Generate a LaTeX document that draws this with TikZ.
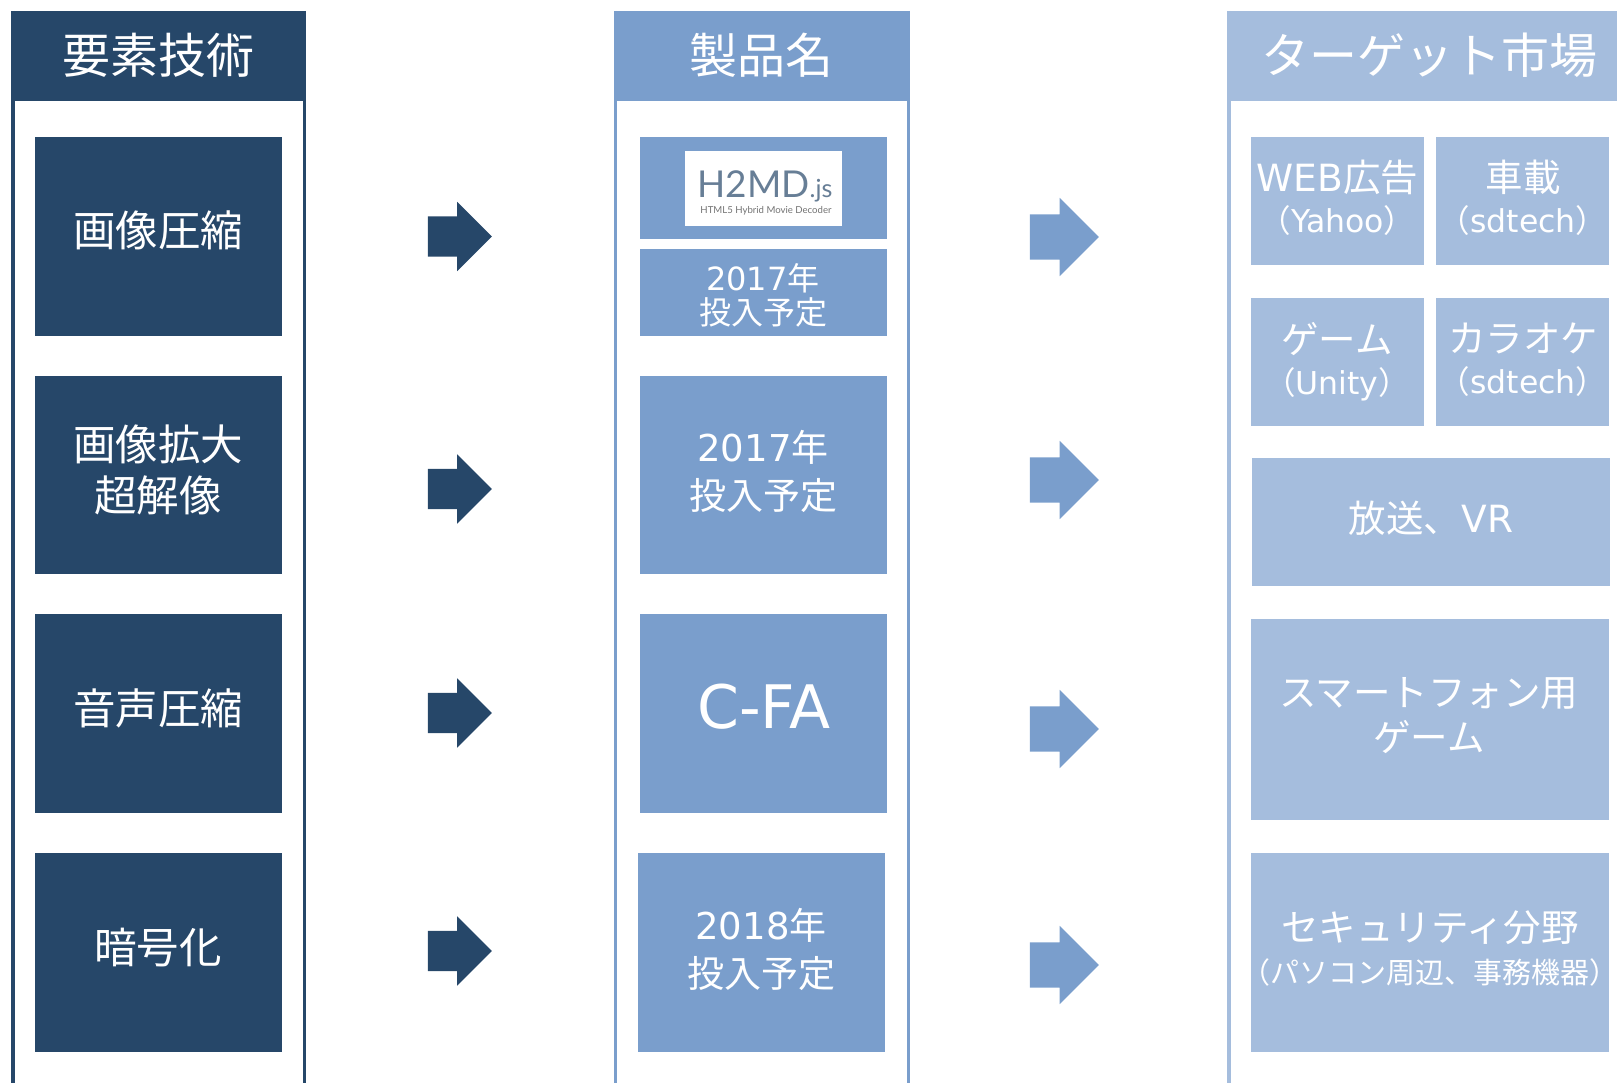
\documentclass[tikz,border=0pt]{standalone}
\usepackage{fontspec}
\usepackage{xcolor}
\usetikzlibrary{shapes.arrows}
\setmainfont{Noto Sans CJK JP}
\newfontfamily\lat{DejaVu Sans}
\newfontfamily\logofont{Lato}
\definecolor{darkblue}{HTML}{264769}
\definecolor{midblue}{HTML}{7A9ECC}
\definecolor{lightblue}{HTML}{A5BDDD}
\newcommand{\fs}[2]{\fontsize{#1}{#2}\selectfont}
\begin{document}
\begin{tikzpicture}
  [x=1pt,y=-1pt,
   box/.style={rectangle,inner sep=0pt,minimum width=#1},
   txt/.style={white,inner sep=0pt,align=center,text depth=0pt,yshift=2pt},
   darrow/.style={single arrow,fill=darkblue,inner xsep=0pt,inner ysep=20pt,minimum height=64pt,
     single arrow head extend=14.5pt,single arrow head indent=0pt},
   larrow/.style={single arrow,fill=midblue,inner xsep=0pt,inner ysep=22.5pt,minimum height=69pt,
     single arrow head extend=16.5pt,single arrow head indent=0pt}]
  \useasboundingbox (0,0) rectangle (1617,1083);
  \clip (0,0) rectangle (1617,1083);

  % column frames
  \coordinate (fa) at (13,11);
  \coordinate (fb) at (304.5,11);
  \coordinate (fc) at (615.5,11);
  \coordinate (fd) at (908.5,11);
  \coordinate (fe) at (1229,11);
  \coordinate (ga) at (13,1083);
  \coordinate (gb) at (304.5,1083);
  \coordinate (gc) at (615.5,1083);
  \coordinate (gd) at (908.5,1083);
  \coordinate (ge) at (1229,1083);
  \draw[darkblue,line width=3.3pt] (fa) -- (ga);
  \draw[darkblue,line width=3.3pt] (fb) -- (gb);
  \draw[midblue,line width=3.3pt] (fc) -- (gc);
  \draw[midblue,line width=3.3pt] (fd) -- (gd);
  \draw[lightblue,line width=3.3pt] (fe) -- (ge);

  % headers
  \node[box=295pt,minimum height=90pt,fill=darkblue] (heada) at (158.5,56) {};
  \node[box=296.5pt,minimum height=90pt,fill=midblue] (headb) at (761.75,56) {};
  \node[box=390pt,minimum height=90pt,fill=lightblue] (headc) at (1422,56) {};

  % boxes
  \foreach \name/\x/\y/\w/\h in {a1/158.25/236.5/247/199,a2/158.25/475/247/198,a3/158.25/713.5/247/199,a4/158.25/952.5/247/199}
    \node[box=\w pt,minimum height=\h pt,fill=darkblue] (\name) at (\x,\y) {};
  \foreach \name/\x/\y/\w/\h in {b0/763.5/188/247/102,b1/763.5/292.5/247/87,b2/763.5/475/247/198,b3/763.5/713.5/247/199,b4/761.5/952.5/247/199}
    \node[box=\w pt,minimum height=\h pt,fill=midblue] (\name) at (\x,\y) {};
  \foreach \name/\x/\y/\w/\h in {c1/1337.5/201/173/128,c2/1522.5/201/173/128,c3/1337.5/362/173/128,c4/1522.5/362/173/128,c5/1430.5/522/358/128,c6/1430/719.5/358/201,c7/1430/952.5/358/199}
    \node[box=\w pt,minimum height=\h pt,fill=lightblue] (\name) at (\x,\y) {};

  % logo
  \node[box=157pt,minimum height=75pt,fill=white] (logo) at (763.5,188.5) {};
  \node[inner sep=0pt,text=darkblue!70!white,font={\logofont\fs{37}{37}}] (logoa) at (765,186) {H2MD\fs{25}{25}.js};
  \node[inner sep=0pt,text=black!55,font={\logofont\fs{9.6}{9.6}}] (logob) at (766,210.5) {HTML5 Hybrid Movie Decoder};

  % arrows
  \foreach \y [count=\i] in {236.5,489,713,951}
    \node[darrow] (da\i) at (449.7,\y) {};
  \foreach \y [count=\i] in {237,480,729,965}
    \node[larrow] (la\i) at (1053,\y) {};

  % header text
  \node[txt,font=\fs{48}{48}] (ta) at (158,55) {要素技術};
  \node[txt,font=\fs{48}{48}] (tb) at (761,55) {製品名};
  \node[txt,font=\fs{48}{48}] (tc) at (1429.5,55) {ターゲット市場};

  % first column text
  \node[txt,font=\fs{42.5}{51.5}] (ta1) at (158,231) {画像圧縮};
  \node[txt,font=\fs{42.5}{51.5}] (ta2) at (158,470) {画像拡大\\超解像};
  \node[txt,font=\fs{42.5}{51.5}] (ta3) at (158,708.5) {音声圧縮};
  \node[txt,font=\fs{42.5}{51.5}] (ta4) at (158,948) {暗号化};

  % second column text
  \node[txt,font=\fs{32}{34}] (tb1) at (763,295.5) {{\lat 2017}年\\投入予定};
  \node[txt,font=\fs{37}{48}] (tb2) at (763,472) {{\lat 2017}年\\投入予定};
  \node[txt,font={\lat\fs{60}{60}}] (tb3) at (764,708.5) {C-FA};
  \node[txt,font=\fs{37}{48}] (tb4) at (761,950) {{\lat 2018}年\\投入予定};

  % third column text
  \node[txt,font=\fs{37.5}{42}] (tc1) at (1337.5,198.5) {{\lat WEB}広告\\[-1pt]\fs{31.5}{42}（{\lat Yahoo}）};
  \node[txt,font=\fs{37.5}{42}] (tc2) at (1523,198.5) {車載\\[-1pt]\fs{31.5}{42}（{\lat sdtech}）};
  \node[txt,font=\fs{37.5}{42}] (tc3) at (1337,360) {ゲーム\\[-1pt]\fs{31.5}{42}（{\lat Unity}）};
  \node[txt,font=\fs{37.5}{42}] (tc4) at (1523,360) {カラオケ\\[-1pt]\fs{31.5}{42}（{\lat sdtech}）};
  \node[txt,font=\fs{37.5}{42}] (tc5) at (1431,519) {放送、{\lat VR}};
  \node[txt,font=\fs{37.5}{45}] (tc6) at (1429,716) {スマートフォン用\\ゲーム};
  \node[txt,font=\fs{37.5}{43}] (tc7) at (1430,949) {セキュリティ分野\\[-1pt]\fs{29}{43}（パソコン周辺、事務機器）};
\end{tikzpicture}
\end{document}
